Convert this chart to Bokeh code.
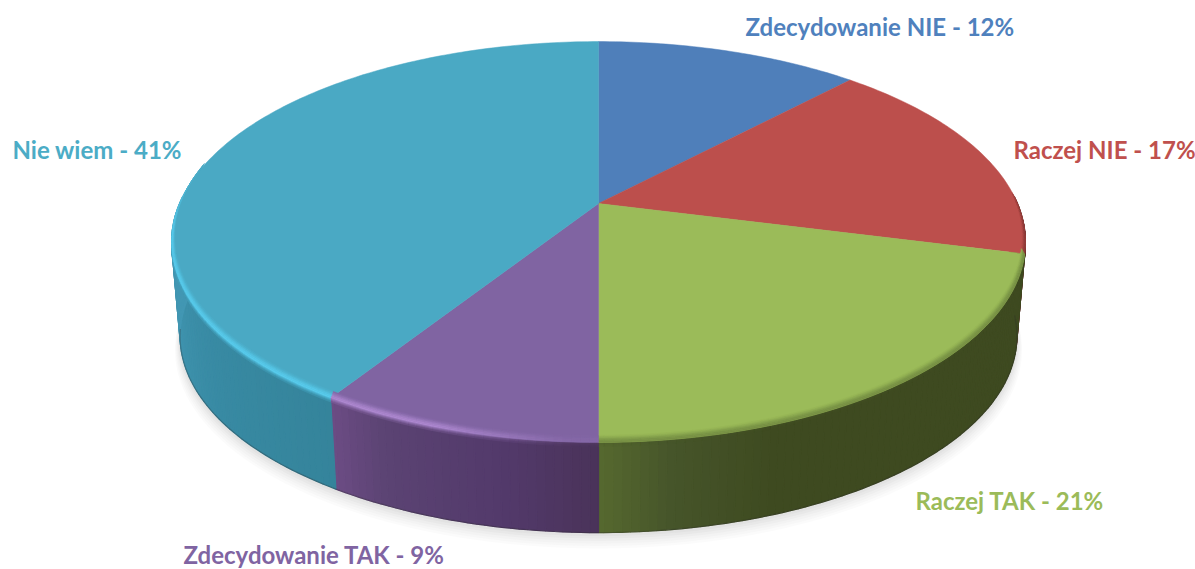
from bokeh.plotting import figure
from bokeh.models import Range1d, ColumnDataSource
from bokeh.core.properties import value
from bokeh.embed import file_html
from bokeh.resources import INLINE
import numpy as np

# ---- chart data
categories = ["Zdecydowanie NIE", "Raczej NIE", "Raczej TAK", "Zdecydowanie TAK", "Nie wiem"]
shares = [12, 17, 21, 9, 41]
top_colors = ["#4f7fba", "#bc4f4c", "#9bbb59", "#8064a2", "#4aa9c4"]
label_colors = ["#4f81bd", "#c0504d", "#9bbb59", "#8064a2", "#4bacc6"]

# ---- page / projection
W, H = 1195, 569
CX, CY, A, B, K = 598.0, 203.0, 419.0, 193.0, 0.192
RING_Y, RING_S = 298.0, 0.98

def pt(theta, r=1.0, drop=0.0, s=1.0, cy=CY):
    u, v = r*np.sin(theta), r*np.cos(theta)
    d = 1 + K*v
    return CX + s*A*u/d, cy + drop - s*B*v/d

def lowpt(theta, grow=0.0, dy=0.0):
    return pt(theta, s=RING_S+grow, cy=RING_Y+dy)

def hex2rgb(h):
    return np.array([int(h[i:i+2], 16) for i in (1, 3, 5)], float)

def mix(a, b, t):
    t = float(np.clip(t, 0, 1))
    c = hex2rgb(a)*(1-t) + hex2rgb(b)*t
    return "#%02x%02x%02x" % tuple(int(round(x)) for x in c)

def ramp(stops, x):
    xs = [s[0] for s in stops]
    for i in range(len(stops)-1):
        if x <= xs[i+1]:
            t = (x-xs[i])/(xs[i+1]-xs[i]) if xs[i+1] > xs[i] else 0
            return mix(stops[i][1], stops[i+1][1], t)
    return stops[-1][1]

edges = np.radians(np.cumsum([0]+shares)*3.6)

# wall shading per slice, as (degrees, colour)
wall_ramps = [
    [(0, "#3a5f8c"), (360, "#3a5f8c")],
    [(0, "#7a302e"), (104.4, "#5b2a28"), (360, "#5b2a28")],
    [(104.4, "#3e4a20"), (160, "#3e4a20"), (172, "#46552a"), (180, "#56692f")],
    [(180, "#4a3359"), (190, "#52396a"), (205, "#5b4373"), (212.4, "#6c4c84")],
    [(212.4, "#35849b"), (235, "#388aa3"), (262, "#4297b3"), (290, "#4498b4")],
]
# rim colour and how strong it is, per slice
rim_colors = ["#3f6698", "#6e2c2a", "#4a5a2a", "#ad88d0", "#58cbec"]

def rim_strength(i, deg):
    if i == 4:
        return float(np.clip((281-deg)/20, 0, 1))
    if i == 3:
        return float(np.clip((deg-181)/18, 0.12, 1))
    if i == 2:
        return 0.45
    if i == 1:
        return 0.6
    return 0.0

p = figure(width=W, height=H, x_range=Range1d(0, W), y_range=Range1d(H, 0),
           toolbar_location=None, output_backend="svg", min_border=0)
p.axis.visible = False
p.grid.visible = False
p.outline_line_color = None
p.background_fill_color = "#ffffff"
p.border_fill_color = "#ffffff"

ts = np.radians(np.arange(0, 360.01, 2))

# soft shadow under the pie
for g, dy, al in [(0.012, 13, 0.03), (0.010, 11, 0.035), (0.008, 9, 0.035), (0.006, 7, 0.04),
                  (0.004, 5, 0.05), (0.002, 3, 0.06)]:
    sx, sy = lowpt(ts, g, dy)
    p.patch(sx.tolist(), sy.tolist(), fill_color="#808080", fill_alpha=al, line_color=None)

# side wall
xs, ys, cols = [], [], []
step = 1.0
LO, HI = 88, 272
for i in range(len(shares)):
    a0, a1 = np.degrees(edges[i]), np.degrees(edges[i+1])
    if a1 < LO or a0 > HI:
        continue
    d = max(a0, LO)
    end = min(a1, HI)
    while d < end:
        e = min(d+step, end)
        t0, t1 = np.radians(d), np.radians(e)
        x0, y0 = pt(t0); x1, y1 = pt(t1)
        x2, y2 = lowpt(t1); x3, y3 = lowpt(t0)
        xs.append([x0, x1, x2, x3]); ys.append([y0, y1, y2, y3])
        cols.append(ramp(wall_ramps[i], (d+e)/2))
        d = e
p.patches(xs, ys, fill_color=cols, line_color=cols, line_width=1.2)

# dark lower edge of the wall
t = np.radians(np.arange(95, 262, 1))
ex, ey = lowpt(t)
p.line(ex.tolist(), ey.tolist(), line_color="#2a2a2a", line_alpha=0.3, line_width=1.2)

# wall just below the rim, blending rim colour into the wall
bx, by, bc = [], [], []
for i in range(len(shares)):
    a0, a1 = np.degrees(edges[i]), np.degrees(edges[i+1])
    if a1 < LO or a0 > HI:
        continue
    d = max(a0, LO)
    end = min(a1, HI)
    while d < end:
        e = min(d+step, end)
        t0, t1 = np.radians(d), np.radians(e)
        st = rim_strength(i, (d+e)/2)
        base = ramp(wall_ramps[i], (d+e)/2)
        for k, dr in enumerate([0.0, 1.0, 2.0, 3.0]):
            x0, y0 = pt(t0, drop=dr); x1, y1 = pt(t1, drop=dr)
            x2, y2 = pt(t1, drop=dr+1.0); x3, y3 = pt(t0, drop=dr+1.0)
            bx.append([x0, x1, x2, x3]); by.append([y0, y1, y2, y3])
            bc.append(mix(base, rim_colors[i], st*(1-k/4)*0.8))
        d = e
p.patches(bx, by, fill_color=bc, line_color=bc, line_width=0.6)

# top face
for i in range(len(shares)):
    t = np.linspace(edges[i], edges[i+1], max(8, int(shares[i]*4)))
    x, y = pt(t)
    p.patch([CX]+x.tolist(), [CY]+y.tolist(), fill_color=top_colors[i],
            line_color=top_colors[i], line_width=0.5)

# bevel on the top face edge
bx, by, bc = [], [], []
lifts = [5.0, 4.0, 3.0, 2.0, 1.0, 0.0]
peak = [0.12, 0.35, 0.65, 0.9, 1.0]
INSET = 0.0015
for i in range(len(shares)):
    a0, a1 = np.degrees(edges[i]), np.degrees(edges[i+1])
    if a1 < LO or a0 > 281:
        continue
    d = max(a0, LO)
    end = min(a1, 281)
    while d < end:
        e = min(d+step, end)
        t0, t1 = np.radians(d), np.radians(e)
        st = rim_strength(i, (d+e)/2)
        for k in range(5):
            r0, r1 = 1-lifts[k]*INSET, 1-lifts[k+1]*INSET
            x0, y0 = pt(t0, r=r0, drop=-lifts[k]); x1, y1 = pt(t1, r=r0, drop=-lifts[k])
            x2, y2 = pt(t1, r=r1, drop=-lifts[k+1]); x3, y3 = pt(t0, r=r1, drop=-lifts[k+1])
            bx.append([x0, x1, x2, x3]); by.append([y0, y1, y2, y3])
            bc.append(mix(top_colors[i], rim_colors[i], st*peak[k]))
        d = e
p.patches(bx, by, fill_color=bc, line_color=bc, line_width=0.4)

# labels
label_x = [745, 1013, 915, 183, 12]
label_y = [26, 149, 500, 554, 149]
labels = ["%s - %d%%" % (c, s) for c, s in zip(categories, shares)]
src = ColumnDataSource(dict(x=label_x, y=label_y, t=labels, c=label_colors))
p.text("x", "y", text="t", text_color="c", source=src, text_font=value("Lato"),
       text_font_style="bold", text_font_size="24px", text_align="left", text_baseline="middle")

open("out.html", "w").write(file_html(p, INLINE))
